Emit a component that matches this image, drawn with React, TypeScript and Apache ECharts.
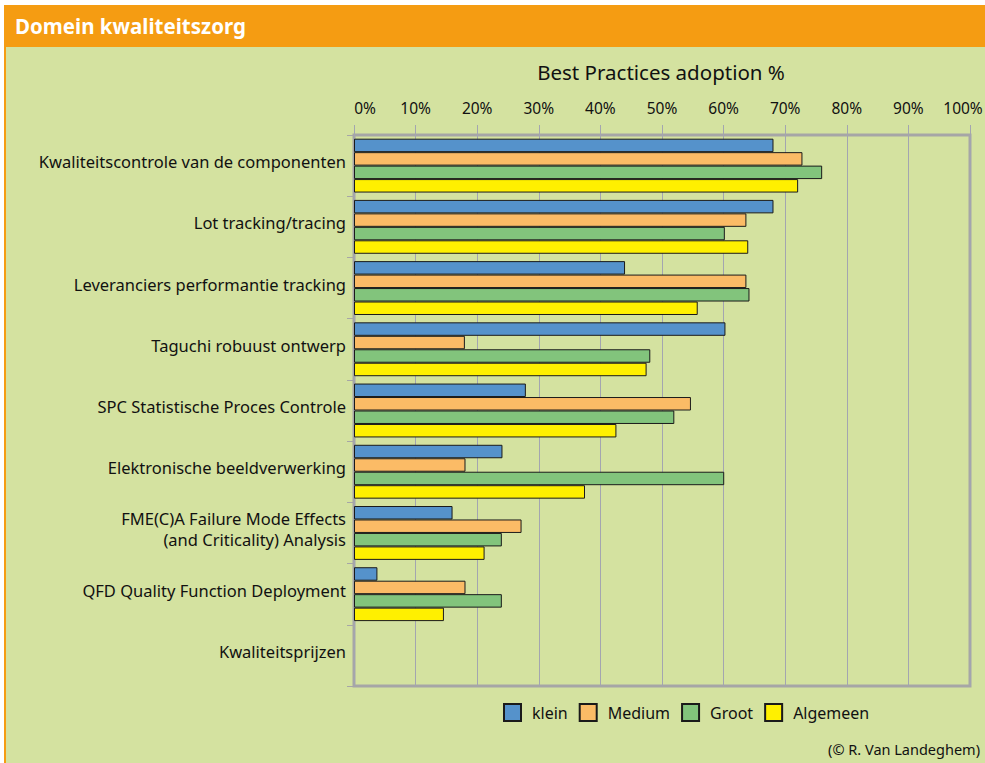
import React, { useEffect, useRef } from "react";
import * as echarts from "echarts";

const categories = [
  "Kwaliteitscontrole van de componenten",
  "Lot tracking/tracing",
  "Leveranciers performantie tracking",
  "Taguchi robuust ontwerp",
  "SPC Statistische Proces Controle",
  "Elektronische beeldverwerking",
  "FME(C)A Failure Mode Effects\n(and Criticality) Analysis",
  "QFD Quality Function Deployment",
  "Kwaliteitsprijzen",
];

const seriesNames = ["klein", "Medium", "Groot", "Algemeen"];
const klein = [68.1, 68.1, 44.0, 60.3, 27.9, 24.1, 16.0, 3.8, null];
const medium = [72.8, 63.7, 63.7, 18.0, 54.7, 18.1, 27.2, 18.1, null];
const groot = [76.0, 60.2, 64.2, 48.1, 52.0, 60.1, 24.0, 24.0, null];
const algemeen = [72.1, 64.0, 55.8, 47.5, 42.6, 37.5, 21.2, 14.6, null];
const colors = ["#5592cb", "#fbbb66", "#82c47c", "#fff000"];

const FONT = "'Noto Sans', 'DejaVu Sans', sans-serif";

export default function App() {
  const ref = useRef<HTMLDivElement>(null);
  useEffect(() => {
    if (!ref.current) return;
    const chart = echarts.init(ref.current, null, { renderer: "svg" });
    const data = [klein, medium, groot, algemeen];
    chart.setOption({
      animation: false,
      backgroundColor: "#ffffff",
      textStyle: { fontFamily: FONT },
      graphic: [
        { type: "rect", shape: { x: 4, y: 5, width: 981, height: 41 }, style: { fill: "#f59c12" }, z: -10 },
        { type: "rect", shape: { x: 4, y: 46, width: 981, height: 717 }, style: { fill: "#f59c12" }, z: -10 },
        { type: "rect", shape: { x: 6, y: 47, width: 979, height: 716 }, style: { fill: "#d4e2a0" }, z: -9 },
        {
          type: "text", x: 15, y: 26,
          style: { text: "Domein kwaliteitszorg", fill: "#ffffff", font: `bold 20.5px ${FONT}`, verticalAlign: "middle" },
        },
        {
          type: "text", x: 661, y: 72,
          style: { text: "Best Practices adoption %", fill: "#111111", font: `20.5px ${FONT}`, align: "center", verticalAlign: "middle" },
        },
        {
          type: "text", x: 980, y: 749,
          style: { text: "(© R. Van Landeghem)", fill: "#111111", font: `14.5px ${FONT}`, align: "right", verticalAlign: "middle" },
        },
      ],
      grid: {
        left: 354, top: 135, width: 616, height: 551, show: true, borderColor: "#a6a6a6", borderWidth: 3,
        backgroundColor: "transparent", outerBoundsMode: "none", containLabel: false,
      },
      xAxis: {
        type: "value", position: "top", min: 0, max: 100, interval: 10,
        axisLabel: {
          fontSize: 15.5, color: "#111111", margin: 19,
          formatter: (v: number) => (v === 0 ? `{first|${v}%}` : v === 100 ? `{last|${v}%}` : `${v}%`),
          rich: {
            first: { fontSize: 15.5, color: "#111111", padding: [0, 0, 0, 22] },
            last: { fontSize: 15.5, color: "#111111", padding: [0, 14, 0, 0] },
          },
        },
        axisTick: { show: true, length: 10, lineStyle: { color: "#a3a5b0", width: 1 } },
        axisLine: { show: false },
        splitLine: { show: true, lineStyle: { color: "#a3a5b0", width: 1 } },
      },
      yAxis: {
        type: "category", data: categories, inverse: true,
        axisLine: { show: false },
        axisTick: { show: true, length: 7, lineStyle: { color: "#a6a6a6", width: 1 } },
        axisLabel: {
          fontSize: 16.5, color: "#111111", margin: 8, align: "right",
          formatter: (v: string) => v.split("\n").map((s) => `{a|${s}}`).join("\n"),
          rich: { a: { fontSize: 16.5, color: "#111111", lineHeight: 21, padding: [0, 0, 8, 0] } },
        },
      },
      legend: {
        left: 498, top: 698, itemWidth: 17, itemHeight: 17, itemGap: 11,
        icon: "rect",
        textStyle: { fontSize: 16, color: "#111111", padding: [0, 0, 0, 6] },
        data: seriesNames,
      },
      series: seriesNames.map((name, i) => ({
        name, type: "bar", data: data[i],
        barGap: "0%", barCategoryGap: "12%",
        itemStyle: { color: colors[i], borderColor: "#1a1a1a", borderWidth: 1 },
      })),
    });
    return () => chart.dispose();
  }, []);
  return <div ref={ref} style={{ position: "fixed", left: 0, top: 0, width: 985, height: 763 }} />;
}
